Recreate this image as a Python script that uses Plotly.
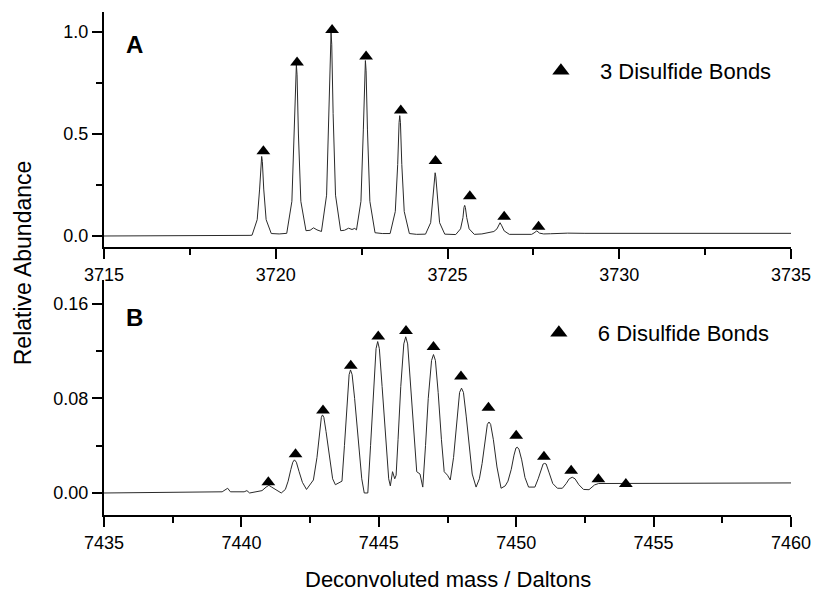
import plotly.graph_objects as go

# ---------------- Data: panel A (3 disulfide bonds) ----------------
spec_a_mass = [3715.0, 3719.0, 3719.25,
               3719.31, 3719.46, 3719.53, 3719.57, 3719.59, 3719.61, 3719.65, 3719.72, 3719.87,
               3720.10, 3720.30,
               3720.32, 3720.47, 3720.54, 3720.58, 3720.60, 3720.62, 3720.66, 3720.73, 3720.88,
               3721.00, 3721.10, 3721.20, 3721.30,
               3721.33, 3721.48, 3721.55, 3721.59, 3721.61, 3721.63, 3721.67, 3721.74, 3721.89,
               3722.00, 3722.12, 3722.22, 3722.30,
               3722.35, 3722.48, 3722.55, 3722.59, 3722.61, 3722.63, 3722.67, 3722.74, 3722.89,
               3723.10,
               3723.33, 3723.48, 3723.55, 3723.59, 3723.61, 3723.63, 3723.67, 3723.74, 3723.89,
               3724.10,
               3724.36, 3724.51, 3724.58, 3724.62, 3724.64, 3724.66, 3724.70, 3724.77, 3724.92,
               3725.10,
               3725.24, 3725.38, 3725.45, 3725.48, 3725.50, 3725.52, 3725.56, 3725.63, 3725.78,
               3726.00, 3726.20, 3726.30,
               3726.35, 3726.44, 3726.49, 3726.53, 3726.58, 3726.65, 3726.80,
               3727.20, 3727.45,
               3727.52, 3727.60, 3727.68, 3727.80,
               3728.00, 3728.50, 3729.00, 3731.00, 3733.00, 3735.00]
spec_a_abund = [0.0, 0.0, 0.003,
                0.004, 0.08, 0.23, 0.365, 0.39, 0.365, 0.23, 0.08, 0.012,
                0.010, 0.012,
                0.013, 0.17, 0.50, 0.79, 0.84, 0.79, 0.50, 0.17, 0.026,
                0.028, 0.040, 0.030, 0.022,
                0.022, 0.20, 0.60, 0.94, 0.995, 0.94, 0.60, 0.20, 0.026,
                0.028, 0.038, 0.032, 0.037,
                0.030, 0.17, 0.52, 0.81, 0.86, 0.81, 0.52, 0.17, 0.016,
                0.012,
                0.012, 0.12, 0.35, 0.555, 0.59, 0.555, 0.35, 0.12, 0.012,
                0.008,
                0.009, 0.065, 0.19, 0.29, 0.31, 0.29, 0.19, 0.065, 0.009,
                0.006,
                0.007, 0.035, 0.09, 0.14, 0.15, 0.14, 0.09, 0.035, 0.008,
                0.010, 0.018, 0.020,
                0.022, 0.035, 0.050, 0.065, 0.050, 0.025, 0.008,
                0.006, 0.008,
                0.015, 0.025, 0.014, 0.010,
                0.011, 0.014, 0.013, 0.013, 0.013, 0.013]
iso_a_mass = [3719.64, 3720.62, 3721.64, 3722.63, 3723.64, 3724.65, 3725.65, 3726.65, 3727.65]
iso_a_abund = [0.415, 0.850, 1.010, 0.880, 0.615, 0.368, 0.195, 0.094, 0.045]

# ---------------- Data: panel B (6 disulfide bonds) ----------------
spec_b_mass = [7435.0, 7439.30, 7439.50, 7439.60, 7440.10, 7440.20, 7440.30, 7440.55,
               7440.75, 7440.90, 7441.00, 7441.10, 7441.25, 7441.45,
               7441.60, 7441.70, 7441.80, 7441.87, 7441.93, 7442.00, 7442.10, 7442.22, 7442.37,
               7442.50, 7442.62,
               7442.75, 7442.85, 7442.91, 7442.95, 7443.00, 7443.08, 7443.20, 7443.32, 7443.42,
               7443.55, 7443.66,
               7443.75, 7443.85, 7443.92, 7443.97, 7444.03, 7444.12, 7444.25, 7444.38, 7444.47,
               7444.60,
               7444.70, 7444.80, 7444.90, 7444.96, 7445.02, 7445.12, 7445.25, 7445.36, 7445.42,
               7445.50, 7445.58, 7445.63,
               7445.70, 7445.80, 7445.91, 7445.98, 7446.05, 7446.15, 7446.28, 7446.38, 7446.50,
               7446.60,
               7446.70, 7446.80, 7446.92, 7446.99, 7447.06, 7447.16, 7447.28, 7447.38, 7447.50,
               7447.60,
               7447.72, 7447.83, 7447.94, 7448.01, 7448.08, 7448.18, 7448.30, 7448.40, 7448.54,
               7448.66,
               7448.76, 7448.86, 7448.95, 7449.01, 7449.07, 7449.17, 7449.30, 7449.45, 7449.60,
               7449.70,
               7449.82, 7449.92, 7449.99, 7450.04, 7450.10, 7450.20, 7450.32, 7450.45, 7450.68,
               7450.80, 7450.90, 7450.98, 7451.03, 7451.09, 7451.20, 7451.33, 7451.50, 7451.68,
               7451.82, 7451.93, 7452.04, 7452.14, 7452.28, 7452.45, 7452.65,
               7452.85, 7453.00, 7454.00, 7456.00, 7458.00, 7460.00]
spec_b_abund = [0.0, 0.001, 0.004, 0.001, 0.001, 0.002, 0.0, 0.001,
                0.002, 0.005, 0.0065, 0.005, 0.003, 0.0,
                0.003, 0.010, 0.020, 0.026, 0.028, 0.026, 0.018, 0.009, 0.003,
                0.007, 0.011,
                0.030, 0.055, 0.064, 0.066, 0.064, 0.052, 0.030, 0.012, 0.007,
                0.009, 0.010,
                0.040, 0.080, 0.100, 0.104, 0.100, 0.080, 0.045, 0.012, 0.0,
                0.0,
                0.040, 0.085, 0.122, 0.128, 0.122, 0.090, 0.045, 0.012, 0.006,
                0.018, 0.012, 0.015,
                0.045, 0.090, 0.126, 0.132, 0.126, 0.095, 0.050, 0.018, 0.016,
                0.005,
                0.040, 0.080, 0.112, 0.117, 0.112, 0.085, 0.045, 0.018, 0.015,
                0.011,
                0.030, 0.060, 0.085, 0.0886, 0.085, 0.065, 0.035, 0.016, 0.005,
                0.012,
                0.025, 0.042, 0.058, 0.060, 0.058, 0.045, 0.022, 0.004, 0.006,
                0.010,
                0.020, 0.032, 0.038, 0.0387, 0.037, 0.028, 0.013, 0.005, 0.005,
                0.012, 0.020, 0.0245, 0.025, 0.0245, 0.017, 0.008, 0.004, 0.004,
                0.008, 0.012, 0.0133, 0.012, 0.007, 0.003, 0.0028,
                0.0068, 0.008, 0.008, 0.0082, 0.0085, 0.0085]
iso_b_mass = [7440.98, 7441.97, 7442.97, 7443.98, 7444.98, 7445.99, 7446.99,
              7447.99, 7448.99, 7450.00, 7451.01, 7452.00, 7452.99, 7453.99]
iso_b_abund = [0.0091, 0.0328, 0.0697, 0.1075, 0.1323, 0.1370, 0.1233,
               0.0985, 0.0720, 0.0483, 0.0307, 0.0189, 0.0116, 0.0076]

label_a = "3 Disulfide Bonds"
label_b = "6 Disulfide Bonds"

FONT = "Liberation Sans, Arial, Helvetica, sans-serif"
LINE_COL = "#2a2a2a"

fig = go.Figure()

# Panel A
fig.add_trace(go.Scatter(x=spec_a_mass, y=spec_a_abund, mode="lines",
                         line=dict(color=LINE_COL, width=1), showlegend=False,
                         xaxis="x", yaxis="y"))
fig.add_trace(go.Scatter(x=iso_a_mass, y=iso_a_abund, mode="markers",
                         marker=dict(symbol="triangle-up", size=12, color="black"),
                         showlegend=False, xaxis="x", yaxis="y"))
fig.add_trace(go.Scatter(x=[None], y=[None], mode="markers", name=label_a,
                         marker=dict(symbol="triangle-up", size=15, color="black"),
                         showlegend=True, legend="legend", xaxis="x", yaxis="y"))

# Panel B
fig.add_trace(go.Scatter(x=spec_b_mass, y=spec_b_abund, mode="lines",
                         line=dict(color=LINE_COL, width=1), showlegend=False,
                         xaxis="x2", yaxis="y2"))
fig.add_trace(go.Scatter(x=iso_b_mass, y=iso_b_abund, mode="markers",
                         marker=dict(symbol="triangle-up", size=12, color="black"),
                         showlegend=False, xaxis="x2", yaxis="y2"))
fig.add_trace(go.Scatter(x=[None], y=[None], mode="markers", name=label_b,
                         marker=dict(symbol="triangle-up", size=15, color="black"),
                         showlegend=True, legend="legend2", xaxis="x2", yaxis="y2"))

axis_common = dict(showline=True, linecolor="black", linewidth=2, showgrid=False,
                   zeroline=False, ticks="outside", ticklen=10, tickwidth=1.5,
                   tickcolor="black", tickfont=dict(family=FONT, size=18, color="black"))

fig.update_layout(
    width=823, height=593,
    margin=dict(l=104, r=21, t=12, b=78),
    paper_bgcolor="white", plot_bgcolor="white",
    font=dict(family=FONT, color="black"),
    xaxis=dict(domain=[0, 1], anchor="y", range=[3715, 3735], dtick=5, tick0=3715,
               minor=dict(dtick=2.5, ticks="outside", ticklen=6, tickcolor="black"),
               **axis_common),
    yaxis=dict(domain=[0.5328, 1], anchor="x", range=[-0.054, 1.098], dtick=0.5, tick0=0,
               tickformat=".1f",
               minor=dict(dtick=0.25, ticks="outside", ticklen=6, tickcolor="black"),
               **axis_common),
    xaxis2=dict(domain=[0, 1], anchor="y2", range=[7435, 7460], dtick=5, tick0=7435,
                minor=dict(dtick=2.5, ticks="outside", ticklen=6, tickcolor="black"),
                **axis_common),
    yaxis2=dict(domain=[0, 0.4672], anchor="x2", range=[-0.0186, 0.180], dtick=0.08, tick0=0,
                tickformat=".2f",
                minor=dict(dtick=0.04, ticks="outside", ticklen=6, tickcolor="black"),
                **axis_common),
    legend=dict(x=0.6083, y=0.8827, xanchor="left", yanchor="middle",
                bgcolor="rgba(0,0,0,0)", itemwidth=68,
                font=dict(family=FONT, size=22, color="black")),
    legend2=dict(x=0.6053, y=0.3618, xanchor="left", yanchor="middle",
                 bgcolor="rgba(0,0,0,0)", itemwidth=68,
                 font=dict(family=FONT, size=22, color="black")),
    annotations=[
        dict(text="<b>A</b>", xref="paper", yref="paper", x=0.0444, y=0.9344,
             xanchor="center", yanchor="middle", showarrow=False,
             font=dict(family=FONT, size=24, color="black")),
        dict(text="<b>B</b>", xref="paper", yref="paper", x=0.0444, y=0.3917,
             xanchor="center", yanchor="middle", showarrow=False,
             font=dict(family=FONT, size=24, color="black")),
        dict(text="Relative Abundance", xref="paper", yref="paper", x=-0.1175, y=0.501,
             xanchor="center", yanchor="middle", textangle=-90, showarrow=False,
             font=dict(family=FONT, size=23, color="black")),
        dict(text="Deconvoluted mass / Daltons", xref="paper", yref="paper", x=0.5, y=-0.128,
             xanchor="center", yanchor="middle", showarrow=False,
             font=dict(family=FONT, size=22, color="black")),
    ],
)

fig.write_html("out.html")
